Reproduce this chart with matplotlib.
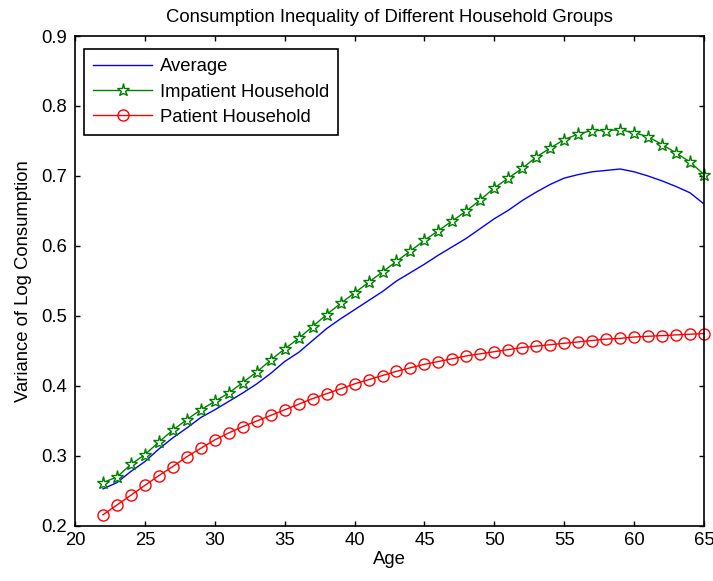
import numpy as np
import matplotlib.pyplot as plt

plt.rcParams['font.family'] = ['Liberation Sans', 'DejaVu Sans']

# ages 22..65
age = list(range(22, 66))

# average household
avg = [0.253, 0.262, 0.278, 0.292, 0.310, 0.326, 0.340, 0.355, 0.366, 0.378,
       0.390, 0.403, 0.418, 0.435, 0.448, 0.465, 0.482, 0.496, 0.509, 0.522,
       0.535, 0.550, 0.562, 0.574, 0.587, 0.599, 0.611, 0.625, 0.639, 0.651,
       0.665, 0.677, 0.688, 0.697, 0.702, 0.706, 0.708, 0.710, 0.706, 0.700,
       0.693, 0.685, 0.676, 0.660]

# impatient household
impatient = [0.262, 0.270, 0.288, 0.302, 0.320, 0.337, 0.352, 0.366, 0.378, 0.390,
             0.405, 0.420, 0.437, 0.453, 0.468, 0.485, 0.502, 0.518, 0.533, 0.548,
             0.563, 0.578, 0.593, 0.608, 0.622, 0.636, 0.650, 0.666, 0.683, 0.697,
             0.711, 0.727, 0.740, 0.752, 0.760, 0.765, 0.765, 0.766, 0.762, 0.756,
             0.745, 0.733, 0.720, 0.702]

# patient household
patient = [0.216, 0.230, 0.244, 0.258, 0.272, 0.285, 0.299, 0.311, 0.323, 0.333,
           0.342, 0.350, 0.358, 0.366, 0.374, 0.382, 0.389, 0.396, 0.403, 0.409,
           0.415, 0.421, 0.426, 0.431, 0.435, 0.439, 0.443, 0.446, 0.449, 0.452,
           0.455, 0.457, 0.459, 0.461, 0.463, 0.465, 0.467, 0.468, 0.470, 0.471,
           0.472, 0.473, 0.474, 0.475]

fs = 13.3

fig = plt.figure(figsize=(7.13, 5.81), dpi=100)
ax = fig.add_axes([75 / 713, 55 / 581, 629 / 713, 490 / 581])

ax.plot(age, avg, color='#0000ff', lw=1, label='Average')
ax.plot(age, impatient, color='#008000', lw=1, marker='*', ms=9.5,
        mfc='white', mec='#008000', mew=1.0, label='Impatient Household',
        clip_on=False)
ax.plot(age, patient, color='#ff0000', lw=1, marker='o', ms=8,
        mfc='none', mec='#ff0000', mew=1, label='Patient Household',
        clip_on=False)

ax.set_xlim(20, 65)
ax.set_ylim(0.2, 0.9)
ax.set_xticks(np.arange(20, 66, 5))
ax.set_yticks(np.arange(0.2, 0.91, 0.1))
ax.tick_params(direction='in', top=True, right=True, labelsize=fs, length=3.6, width=1)
ax.tick_params(axis='x', pad=4.3)
ax.tick_params(axis='y', pad=5.5)
for s in ax.spines.values():
    s.set_linewidth(1.2)

ax.set_xlabel('Age', fontsize=fs, labelpad=1.5)
ax.set_ylabel('Variance of Log Consumption', fontsize=fs, labelpad=7)
ax.set_title('Consumption Inequality of Different Household Groups', fontsize=fs, pad=10)

leg = ax.legend(loc='upper left', bbox_to_anchor=(9 / 629, 1 - 13 / 490),
                borderaxespad=0, fontsize=fs, fancybox=False, edgecolor='black',
                framealpha=1, handlelength=3.2, handletextpad=0.4,
                labelspacing=0.45, borderpad=0.5)
leg.get_frame().set_linewidth(1.2)

plt.savefig('out.png', dpi=100)
